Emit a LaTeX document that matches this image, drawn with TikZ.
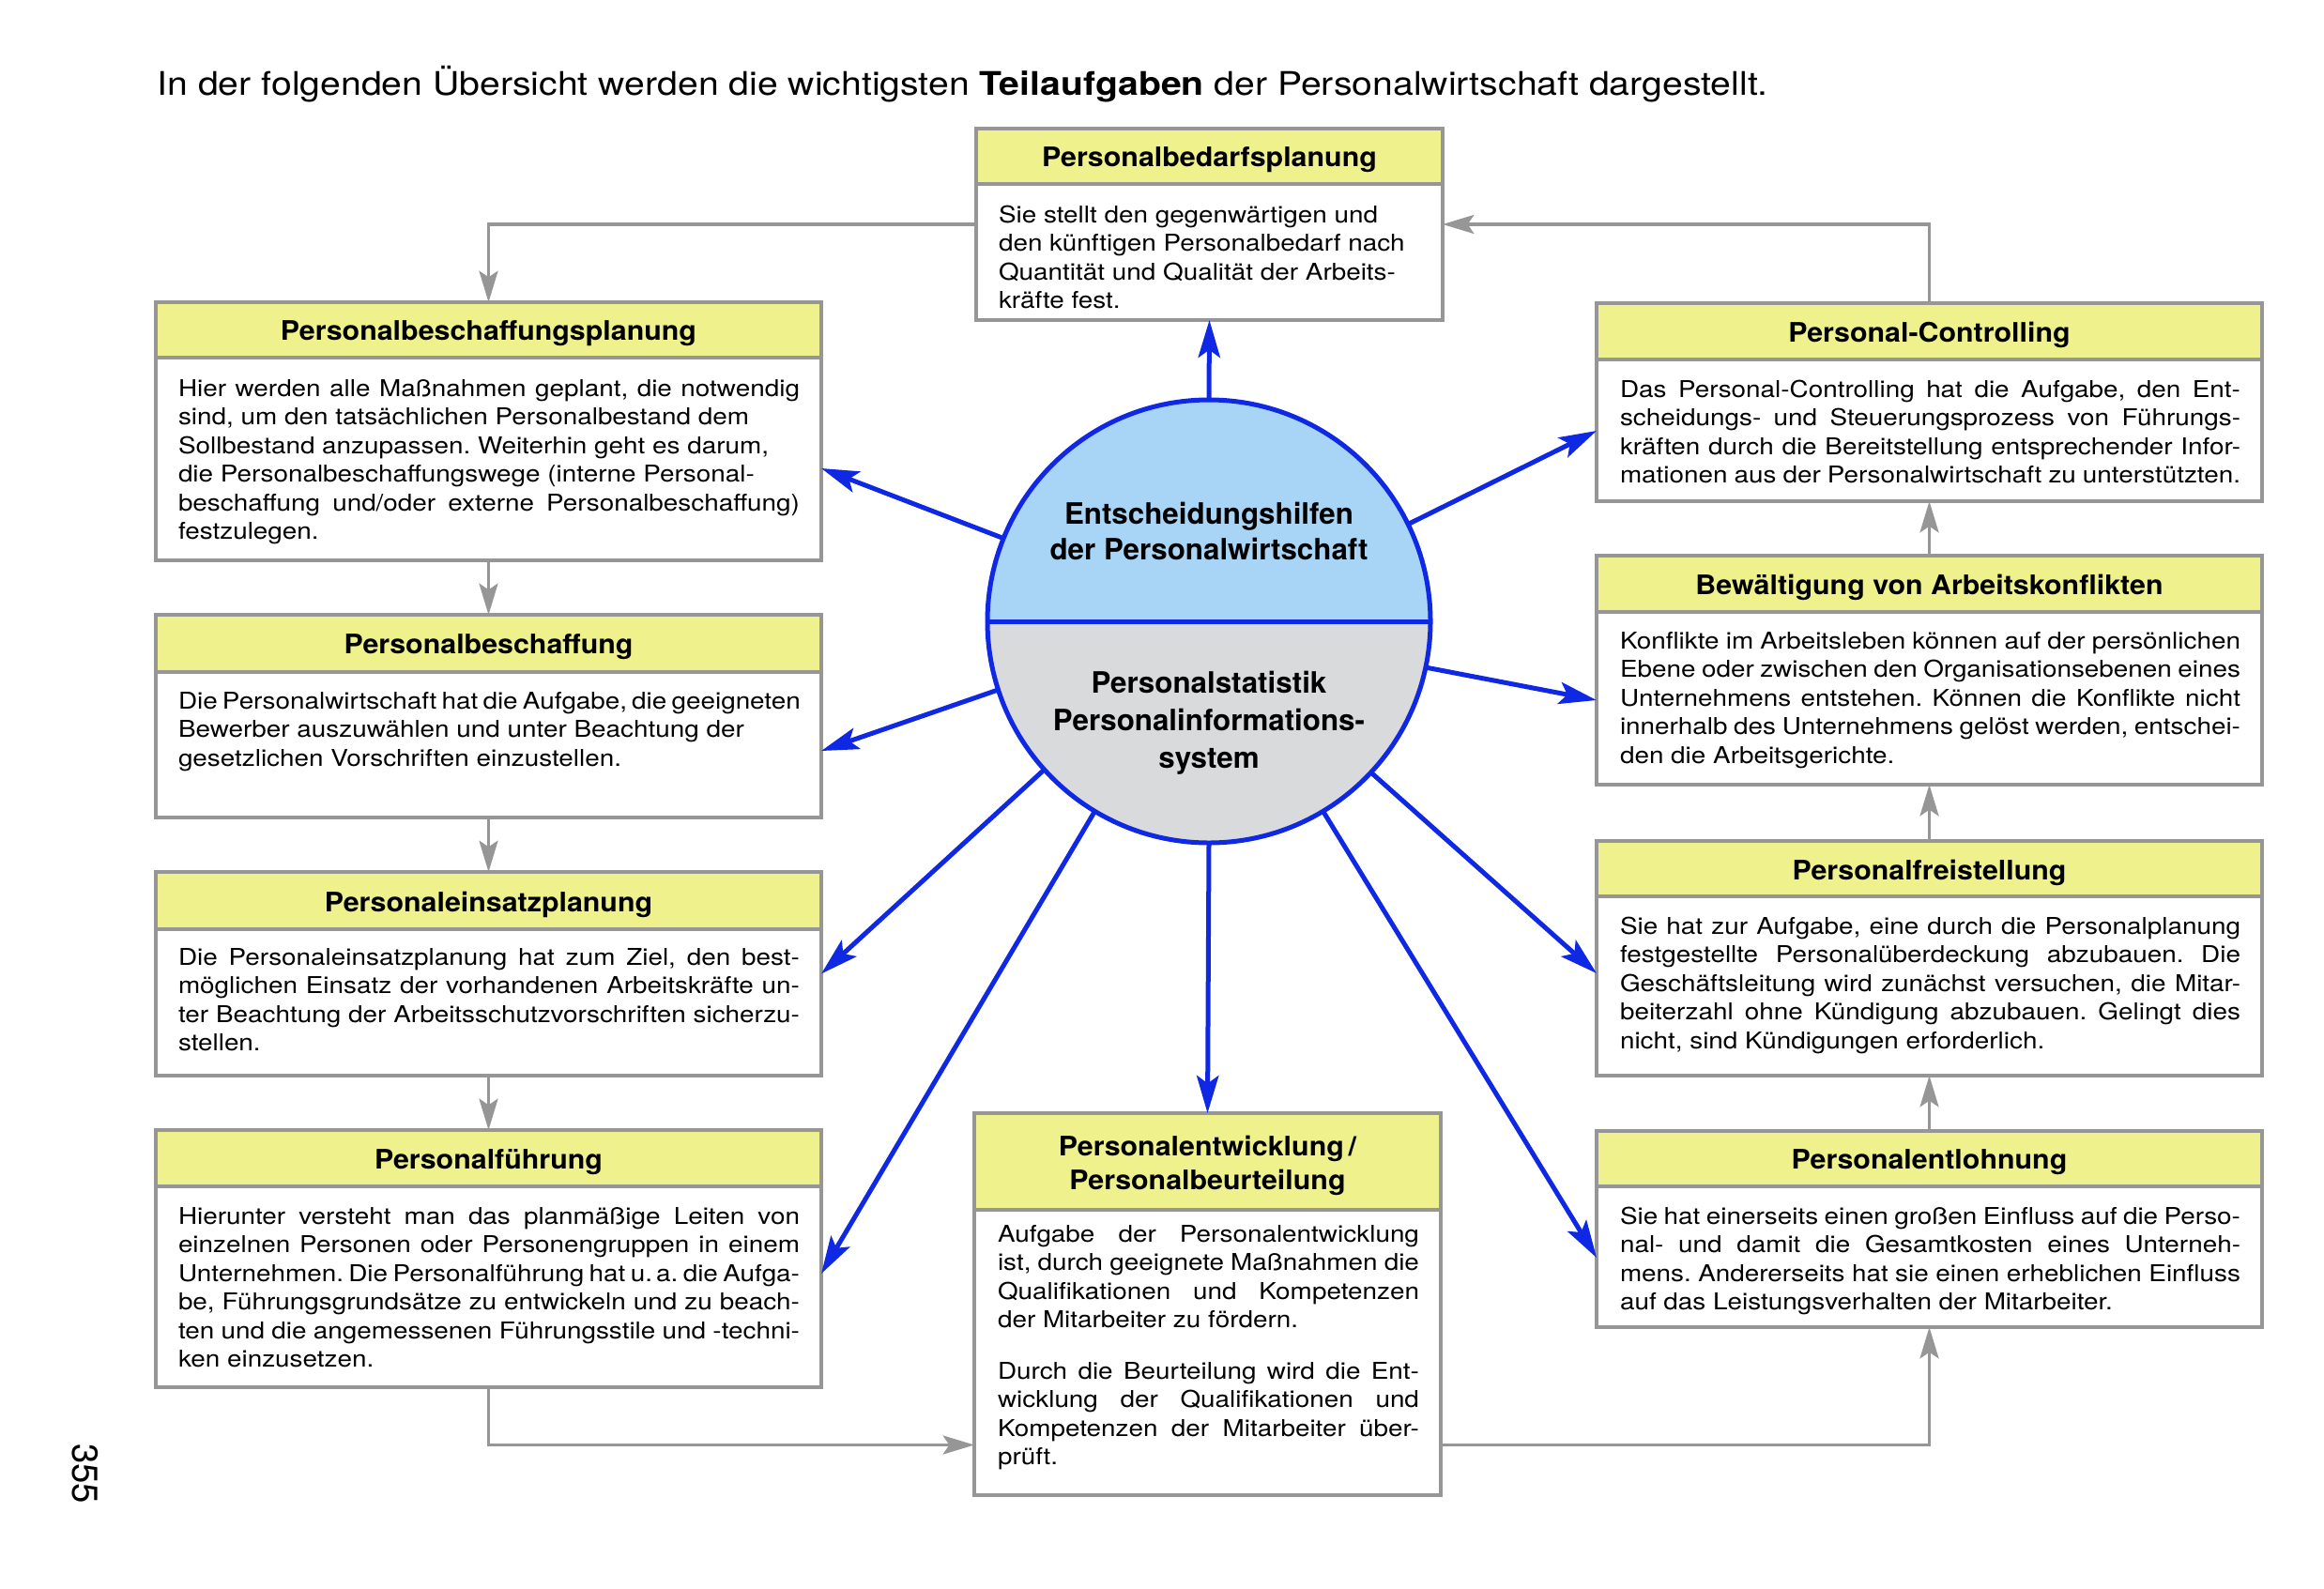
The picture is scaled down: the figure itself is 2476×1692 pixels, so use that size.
\documentclass[tikz,border=0pt]{standalone}
\usepackage{fontspec}
\setmainfont{TeX Gyre Heros}[FakeStretch=1.13]
\newfontfamily\plainfam{TeX Gyre Heros}
\newfontfamily\titlefam{TeX Gyre Heros}[FakeStretch=1.06]
\usetikzlibrary{arrows.meta,calc}
\definecolor{bandY}{RGB}{238,241,140}
\definecolor{frameG}{RGB}{150,150,150}
\definecolor{arrG}{RGB}{150,150,150}
\definecolor{blueL}{RGB}{15,40,228}
\definecolor{cTop}{RGB}{168,212,245}
\definecolor{cBot}{RGB}{217,218,220}
\newcommand\bodyfont{\fontsize{7.4}{9.15}\selectfont}
\newcommand\tfont{\titlefam\fontsize{8.6}{10.8}\selectfont\bfseries}
\newcommand\J[1]{\hbox to\hsize{#1}}
\newcommand\R[1]{\hbox{#1}}
\hbadness=10000 \hfuzz=20pt
\frenchspacing
\tikzset{
  boxnode/.style={rectangle, inner sep=0pt, outer sep=0pt},
  bandfill/.style={fill=bandY},
  boxframe/.style={draw=frameG, line width=1pt},
  titlefont/.style={font=\tfont, align=center, inner sep=0pt},
  bluearr/.style={draw=blueL, line width=1.5pt, -{Stealth[length=12pt,width=7pt,inset=2.5pt]}},
  grayarr/.style={draw=arrG, line width=1pt, -{Stealth[length=10pt,width=6pt,inset=2pt]}},
}
% #1 name, #2 x1, #3 y1, #4 x2, #5 y2, #6 band height, #7 title
\newcommand\pbox[7]{%
  \node[boxnode, anchor=north west, minimum width={(#4-#2)*0.3pt}, minimum height={(#5-#3)*0.3pt}] (#1) at (#2,#3) {};
  \fill[bandfill] (#1.north west) rectangle ($(#1.north east)+(0,#6)$);
  \draw[boxframe] ($(#1.north west)+(0,#6)$) -- ($(#1.north east)+(0,#6)$);
  \draw[boxframe] (#1.north west) rectangle (#1.south east);
  \node[titlefont] (#1-t) at ($(#1.north)+(0,#6/2+4)$) {#7};
}
% #1 name, #2 dx, #3 dy, #4 width, #5 lines
\newcommand\pbody[5]{%
  \node[anchor=base west, inner sep=0pt, outer sep=0pt] (#1-b) at ($(#1.north west)+(#2,#3)$)
    {\vtop{\hsize=#4\bodyfont\parindent=0pt #5}};
}
\begin{document}
\begin{tikzpicture}[x=0.3pt,y=-0.3pt]
\fill[white] (0,0) rectangle (2476,1692);
\useasboundingbox (0,0) rectangle (2476,1692);

\node[anchor=base west, inner sep=0pt, font=\fontsize{10.4}{12}\selectfont] (head) at (167,101)
  {In der folgenden Übersicht werden die wichtigsten \textbf{Teilaufgaben} der Personalwirtschaft dargestellt.};

\node[rotate=-90, inner sep=0pt, font=\plainfam\fontsize{11.5}{12}\selectfont] (pg) at (91,1570) {355};

% boxes
\pbox{bedarf}{1040}{137}{1537}{341}{59}{Personalbedarfsplanung}
\pbody{bedarf}{24}{100}{134.7pt}{%
\R{Sie stellt den gegenwärtigen und}
\R{den künftigen Personalbedarf nach}
\R{Quantität und Qualität der Arbeits-}
\R{kräfte fest.}}

\pbox{bplan}{166}{322}{875}{597}{59}{Personalbeschaffungsplanung}
\pbody{bplan}{24}{100}{198.6pt}{%
\J{Hier werden alle Maßnahmen geplant, die notwendig}
\R{sind, um den tatsächlichen Personalbestand dem}
\R{Sollbestand anzupassen. Weiterhin geht es darum,}
\R{die Personalbeschaffungswege (interne Personal-}
\J{beschaffung und/oder externe Personalbeschaffung)}
\R{festzulegen.}}

\pbox{besch}{166}{655}{875}{871}{61}{Personalbeschaffung}
\pbody{besch}{24}{100}{198.6pt}{%
\J{Die Personalwirtschaft hat die Aufgabe, die geeigneten}
\R{Bewerber auszuwählen und unter Beachtung der}
\R{gesetzlichen Vorschriften einzustellen.}}

\pbox{einsatz}{166}{929}{875}{1146}{61}{Personaleinsatzplanung}
\pbody{einsatz}{24}{99}{198.6pt}{%
\J{Die Personaleinsatzplanung hat zum Ziel, den best-}
\J{möglichen Einsatz der vorhandenen Arbeitskräfte un-}
\J{ter Beachtung der Arbeitsschutzvorschriften sicherzu-}
\R{stellen.}}

\pbox{fuehr}{166}{1204}{875}{1478}{60}{Personalführung}
\pbody{fuehr}{24}{100}{198.6pt}{%
\J{Hierunter versteht man das planmäßige Leiten von}
\J{einzelnen Personen oder Personengruppen in einem}
\J{Unternehmen. Die Personalführung hat u.\,a. die Aufga-}
\J{be, Führungsgrundsätze zu entwickeln und zu beach-}
\J{ten und die angemessenen Führungsstile und -techni-}
\R{ken einzusetzen.}}

\pbox{ctrl}{1701}{323}{2410}{534}{60}{Personal-Controlling}
\pbody{ctrl}{25}{100}{198.3pt}{%
\J{Das Personal-Controlling hat die Aufgabe, den Ent-}
\J{scheidungs- und Steuerungsprozess von Führungs-}
\J{kräften durch die Bereitstellung entsprechender Infor-}
\J{mationen aus der Personalwirtschaft zu unterstützten.}}

\pbox{bew}{1701}{592}{2410}{836}{60}{Bewältigung von Arbeitskonflikten}
\pbody{bew}{25}{99}{198.3pt}{%
\J{Konflikte im Arbeitsleben können auf der persönlichen}
\J{Ebene oder zwischen den Organisationsebenen eines}
\J{Unternehmens entstehen. Können die Konflikte nicht}
\J{innerhalb des Unternehmens gelöst werden, entschei-}
\R{den die Arbeitsgerichte.}}

\pbox{frei}{1701}{896}{2410}{1146}{59}{Personalfreistellung}
\pbody{frei}{25}{99}{198.3pt}{%
\J{Sie hat zur Aufgabe, eine durch die Personalplanung}
\J{festgestellte Personalüberdeckung abzubauen. Die}
\J{Geschäftsleitung wird zunächst versuchen, die Mitar-}
\J{beiterzahl ohne Kündigung abzubauen. Gelingt dies}
\R{nicht, sind Kündigungen erforderlich.}}

\pbox{entl}{1701}{1205}{2410}{1414}{59}{Personalentlohnung}
\pbody{entl}{25}{99}{198.3pt}{%
\J{Sie hat einerseits einen großen Einfluss auf die Perso-}
\J{nal- und damit die Gesamtkosten eines Unterneh-}
\J{mens. Andererseits hat sie einen erheblichen Einfluss}
\R{auf das Leistungsverhalten der Mitarbeiter.}}

\pbox{entw}{1038}{1186}{1535}{1593}{103}{Personalentwicklung\,/\\Personalbeurteilung}
\pbody{entw}{25}{137}{134.7pt}{%
\J{Aufgabe der Personalentwicklung}
\J{ist, durch geeignete Maßnahmen die}
\J{Qualifikationen und Kompetenzen}
\R{der Mitarbeiter zu fördern.}
\vskip 7.2pt
\J{Durch die Beurteilung wird die Ent-}
\J{wicklung der Qualifikationen und}
\J{Kompetenzen der Mitarbeiter über-}
\R{prüft.}}

% centre circle
\node[circle, minimum size=141.6pt, inner sep=0pt, outer sep=0pt] (c) at (1288,662) {};
\begin{scope}
  \clip (c.center) circle[radius=70.8pt];
  \fill[cTop] ($(c.center)+(-250,-250)$) rectangle ($(c.center)+(250,0)$);
  \fill[cBot] ($(c.center)+(-250,0)$) rectangle ($(c.center)+(250,250)$);
\end{scope}
\draw[blueL, line width=1.5pt] (c.center) circle[radius=70.8pt];
\draw[blueL, line width=1.5pt] (c.west) -- (c.east);
\node[font=\plainfam\fontsize{9.4}{11.4}\selectfont\bfseries, align=center, inner sep=0pt] (ctop) at ($(c.center)+(0,-96)$)
  {Entscheidungshilfen\\der Personalwirtschaft};
\node[font=\plainfam\fontsize{9.4}{12}\selectfont\bfseries, align=center, inner sep=0pt] (cbot) at ($(c.center)+(0,108)$)
  {Personalstatistik\\Personalinformations-\\system};

% blue arrows
\draw[bluearr] (c.90) -- (bedarf.south);
\draw[bluearr] (c.270) -- (entw.north);
\draw[bluearr] (c.158.8) -- ($(bplan.east)+(0,39.5)$);
\draw[bluearr] (c.198.7) -- ($(besch.east)+(0,37)$);
\draw[bluearr] (c.222.6) -- (einsatz.east);
\draw[bluearr] (c.239.2) -- ($(fuehr.east)+(0,16)$);
\draw[bluearr] (c.26.2) -- ($(ctrl.west)+(0,30.5)$);
\draw[bluearr] (c.348.2) -- ($(bew.west)+(0,32)$);
\draw[bluearr] (c.317.4) -- ($(frei.west)+(0,16)$);
\draw[bluearr] (c.301) -- ($(entl.west)+(0,30.5)$);

% gray connectors
\draw[grayarr] (bedarf.west) -| (bplan.north);
\draw[grayarr] (ctrl.north) |- (bedarf.east);
\draw[grayarr] (bplan.south) -- (besch.north);
\draw[grayarr] (besch.south) -- (einsatz.north);
\draw[grayarr] (einsatz.south) -- (fuehr.north);
\draw[grayarr] (fuehr.south) |- ($(entw.west)+(0,150)$);
\draw[grayarr] ($(entw.east)+(0,150)$) -| (entl.south);
\draw[grayarr] (entl.north) -- (frei.south);
\draw[grayarr] (frei.north) -- (bew.south);
\draw[grayarr] (bew.north) -- (ctrl.south);
\end{tikzpicture}
\end{document}
